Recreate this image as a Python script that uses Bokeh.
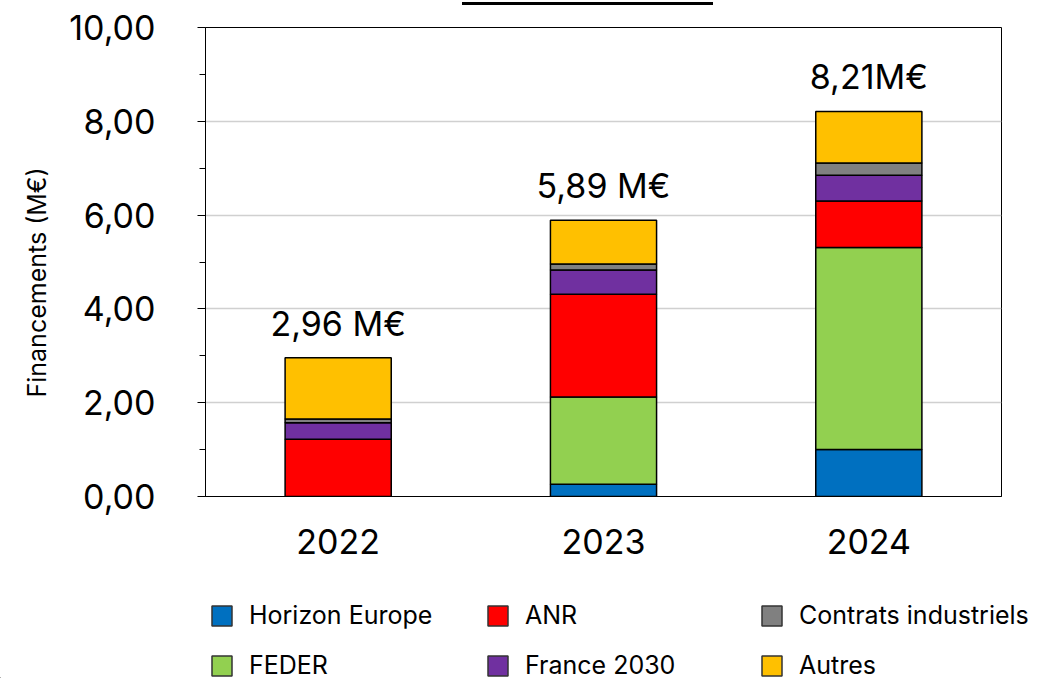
from bokeh.plotting import figure
from bokeh.models import (FixedTicker, Legend, LegendItem, ColumnDataSource, Title, Div, Range1d)
from bokeh.layouts import column, row
from bokeh.embed import file_html
from bokeh.resources import INLINE
from bokeh.core.properties import value

years = ["2022", "2023", "2024"]
horizon_europe = [0.00, 0.26, 1.00]
feder = [0.00, 1.86, 4.31]
anr = [1.22, 2.19, 0.99]
france_2030 = [0.35, 0.52, 0.55]
contrats_industriels = [0.08, 0.13, 0.26]
autres = [1.31, 0.93, 1.10]
total_labels = ["2,96 M€", "5,89 M€", "8,21M€"]
y_ticks = [0, 2, 4, 6, 8, 10]
y_tick_labels = ["0,00", "2,00", "4,00", "6,00", "8,00", "10,00"]
y_minor = [1, 3, 5, 7, 9]

series_names = ["Horizon Europe", "FEDER", "ANR", "France 2030", "Contrats industriels", "Autres"]
series_keys = ["he", "feder", "anr", "f2030", "ci", "autres"]
colors = ["#0070C0", "#92D050", "#FF0000", "#7030A0", "#808080", "#FFC000"]

FONT = "Inter"

data = dict(years=years, he=horizon_europe, feder=feder, anr=anr,
            f2030=france_2030, ci=contrats_industriels, autres=autres)
totals = [sum(v) for v in zip(horizon_europe, feder, anr, france_2030, contrats_industriels, autres)]
data["total"] = totals
data["label"] = total_labels
src = ColumnDataSource(data)

# --- top underline (title decoration) ---
top = Div(text="", width=251, height=3, margin=(2, 0, 3, 462),
          styles={"background-color": "black"})

# --- main chart ---
p = figure(x_range=years, y_range=(0, 10), width=1037, height=582,
           output_backend="svg", toolbar_location=None,
           min_border_left=205, min_border_right=36, min_border_top=19, min_border_bottom=94)
p.outline_line_color = "black"
p.outline_line_width = 1
p.background_fill_color = "white"
p.border_fill_color = "white"

renderers = p.vbar_stack(series_keys, x="years", width=0.4, source=src,
                         color=colors, line_color="black", line_width=1.5)

p.text(x="years", y="total", text="label", source=src, text_align="center",
       text_baseline="bottom", y_offset=-14, text_font=value(FONT),
       text_font_size="34px", text_color="black")

yax = p.yaxis[0]
yax.ticker = FixedTicker(ticks=y_ticks, minor_ticks=y_minor)
yax.major_label_overrides = {t: l for t, l in zip(y_ticks, y_tick_labels)}
yax.major_label_text_font = FONT
yax.major_label_text_font_size = "34px"
yax.major_label_text_color = "black"
yax.major_tick_out = 8
yax.major_tick_in = 0
yax.minor_tick_out = 6
yax.minor_tick_in = 0
yax.major_tick_line_color = "black"
yax.minor_tick_line_color = "black"
yax.axis_line_color = "black"
yax.major_label_standoff = 42

xax = p.xaxis[0]
xax.major_label_text_font = FONT
xax.major_label_text_font_size = "34px"
xax.major_label_text_color = "black"
xax.major_tick_line_color = None
xax.minor_tick_line_color = None
xax.axis_line_color = "black"
xax.major_label_standoff = 26

p.xgrid.grid_line_color = None
p.ygrid.ticker = FixedTicker(ticks=[2, 4, 6, 8])
p.ygrid.grid_line_color = "#d0d0d0"
p.ygrid.grid_line_width = 1.5
p.x_range.range_padding = 0.0

p.add_layout(Title(text="Financements (M€)", align="left", offset=99, standoff=30,
                   text_font=FONT, text_font_size="25px", text_font_style="normal",
                   text_color="black"), "left")

# --- legend strip ---
lf = figure(width=1037, height=88, output_backend="svg", toolbar_location=None,
            x_axis_type=None, y_axis_type=None, x_range=Range1d(0, 1), y_range=Range1d(0, 1),
            min_border=0, min_border_left=0, min_border_right=0)
lf.outline_line_color = None
lf.xgrid.grid_line_color = None
lf.ygrid.grid_line_color = None
dummy = [lf.vbar(x=[-5], top=[-5], bottom=[-6], width=0.1, fill_color=c,
                 line_color="#333333", line_width=1.5)
         for c in colors]

cols = [(0, 1, 209), (2, 3, 485), (4, 5, 759)]
for a, b, vx in cols:
    items = [LegendItem(label=series_names[i], renderers=[dummy[i]]) for i in (a, b)]
    lg = Legend(items=items, location=(vx, -2), orientation="vertical",
                glyph_width=25, glyph_height=25, label_height=25, spacing=20,
                label_standoff=15, padding=0, margin=0, border_line_color=None,
                background_fill_alpha=0, label_text_font=FONT,
                label_text_font_size="25px", label_text_color="black")
    lf.add_layout(lg)

layout = column(top, p, row(lf, spacing=0), spacing=0)
open("out.html", "w").write(file_html(layout, INLINE))
